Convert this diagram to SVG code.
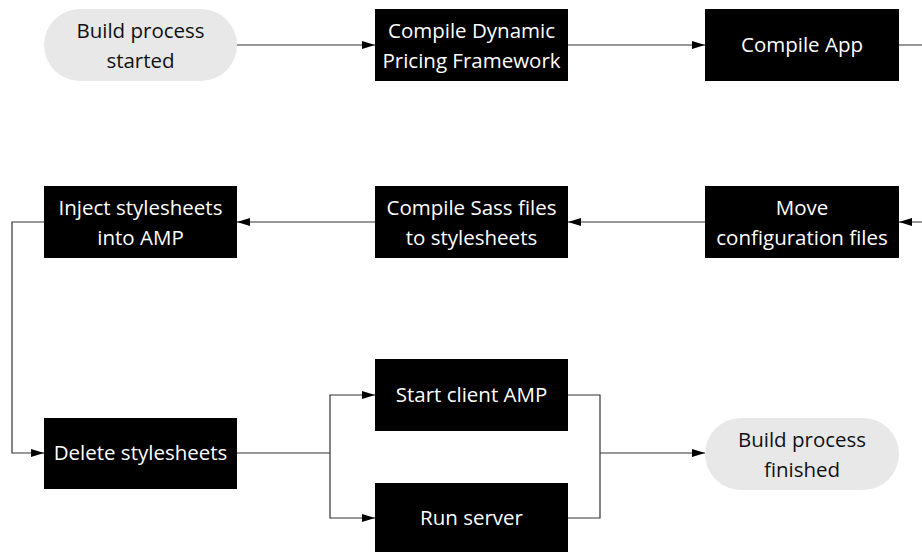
<svg xmlns="http://www.w3.org/2000/svg" width="922" height="552" viewBox="0 0 922 552">
  <style>
    .box { fill: #000000; }
    .term { fill: #e8e8e8; }
    .lbl { font-family: "Open Sans", "Liberation Sans", sans-serif; font-size: 20.5px; text-anchor: middle; }
    .box-t { fill: #ffffff; }
    .term-t { fill: #111111; }
    .edge { fill: none; stroke: #333333; stroke-width: 1.2; marker-end: url(#arrow); }
    .edge-plain { fill: none; stroke: #333333; stroke-width: 1.2; }
  </style>
  <defs>
    <marker id="arrow" viewBox="0 0 13 8" refX="13" refY="4" markerWidth="13" markerHeight="8" markerUnits="userSpaceOnUse" orient="auto">
      <path d="M0,0 L13,4 L0,8 Z" fill="#000000"/>
    </marker>
  </defs>
  <rect width="922" height="552" fill="#ffffff"/>

  <g id="connectors">
    <path class="edge" d="M237,45 H375"/>
    <path class="edge" d="M568,45 H705"/>
    <path class="edge" d="M899,45 H935 V222 H899"/>
    <path class="edge" d="M705,222 H568"/>
    <path class="edge" d="M375,222 H237"/>
    <path class="edge" d="M44,222 H12 V453 H44"/>
    <path class="edge-plain" d="M237,453 H330"/>
    <path class="edge" d="M330,453 V395 H375"/>
    <path class="edge" d="M330,453 V518 H375"/>
    <path class="edge-plain" d="M568,395 H600 V518 H568"/>
    <path class="edge" d="M600,453 H705"/>
  </g>

  <g id="build-started">
    <rect class="term" x="44" y="9" width="193" height="72" rx="36"/>
    <text class="lbl term-t" x="140.5" y="38">Build process</text>
    <text class="lbl term-t" x="140.5" y="68">started</text>
  </g>
  <g id="compile-dpf">
    <rect class="box" x="375" y="9" width="193" height="72"/>
    <text class="lbl box-t" x="471.5" y="38">Compile Dynamic</text>
    <text class="lbl box-t" x="471.5" y="68">Pricing Framework</text>
  </g>
  <g id="compile-app">
    <rect class="box" x="705" y="9" width="194" height="72"/>
    <text class="lbl box-t" x="802" y="52">Compile App</text>
  </g>
  <g id="move-config">
    <rect class="box" x="705" y="186" width="194" height="72"/>
    <text class="lbl box-t" x="802" y="215">Move</text>
    <text class="lbl box-t" x="802" y="245">configuration files</text>
  </g>
  <g id="compile-sass">
    <rect class="box" x="375" y="186" width="193" height="72"/>
    <text class="lbl box-t" x="471.5" y="215">Compile Sass files</text>
    <text class="lbl box-t" x="471.5" y="245">to stylesheets</text>
  </g>
  <g id="inject-stylesheets">
    <rect class="box" x="44" y="186" width="193" height="72"/>
    <text class="lbl box-t" x="140.5" y="215">Inject stylesheets</text>
    <text class="lbl box-t" x="140.5" y="245">into AMP</text>
  </g>
  <g id="delete-stylesheets">
    <rect class="box" x="44" y="418" width="193" height="71"/>
    <text class="lbl box-t" x="140.5" y="460">Delete stylesheets</text>
  </g>
  <g id="start-client">
    <rect class="box" x="375" y="359" width="193" height="72"/>
    <text class="lbl box-t" x="471.5" y="402">Start client AMP</text>
  </g>
  <g id="run-server">
    <rect class="box" x="375" y="483" width="193" height="72"/>
    <text class="lbl box-t" x="471.5" y="525">Run server</text>
  </g>
  <g id="build-finished">
    <rect class="term" x="705" y="418" width="194" height="72" rx="36"/>
    <text class="lbl term-t" x="802" y="447">Build process</text>
    <text class="lbl term-t" x="802" y="477">finished</text>
  </g>
</svg>
